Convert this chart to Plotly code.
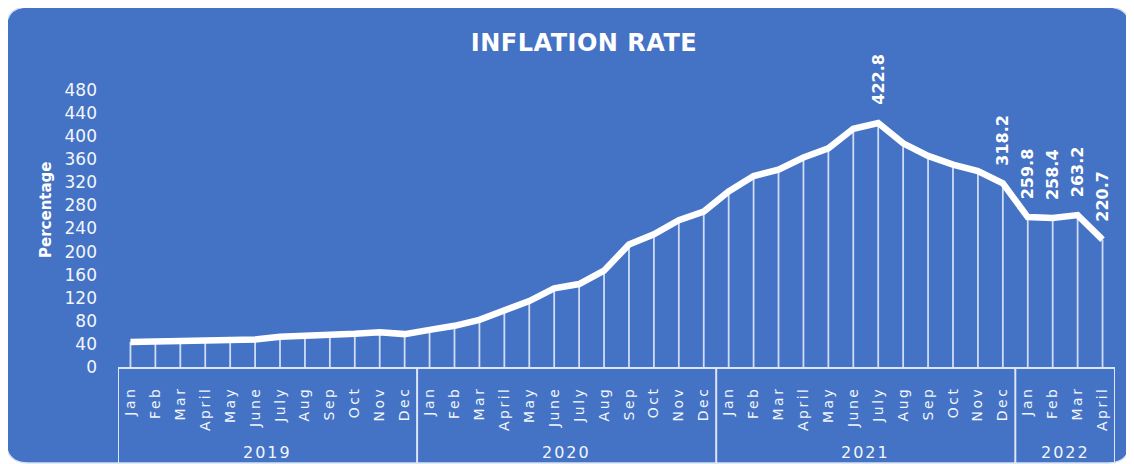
import plotly.graph_objects as go

years = ["2019", "2020", "2021", "2022"]
year_counts = [12, 12, 12, 4]
months = (["Jan", "Feb", "Mar", "April", "May", "June", "July", "Aug", "Sep", "Oct", "Nov", "Dec"] * 3
          + ["Jan", "Feb", "Mar", "April"])
inflation = [43.5, 44.3, 44.6, 44.4, 45.0, 47.8, 52.6, 53.8, 54.6, 57.7, 60.4, 57.0,
             64.3, 71.4, 81.6, 98.8, 114.3, 136.4, 143.8, 166.8, 212.3, 229.9, 254.3, 269.3,
             304.3, 330.8, 341.8, 363.1, 378.8, 412.8, 422.8, 387.6, 365.8, 350.8, 339.6, 318.2,
             259.8, 258.4, 263.2, 220.7]
labelled = [30, 35, 36, 37, 38, 39]
y_ticks = list(range(0, 481, 40))

OFF = 8  # page body margin
W, H = 1134 - OFF, 464 - OFF
# plot area in page pixels: x 118..1115, y 90..367
ML = 118 - OFF
MR = W - (1115 - OFF)
MT = 90 - OFF
MB = H - (367 - OFF)
PW, PH = W - ML - MR, H - MT - MB
BLUE = "#4472C4"
LINEC = "#dbe6f6"
FONT = "DejaVu Sans"


def px(x):  # page pixel -> paper x
    return (x - OFF - ML) / PW


def py(y):  # page pixel -> paper y
    return (H - MB - (y - OFF)) / PH


def spaced(t, s):
    return f'<span style="letter-spacing:{s}px">{t}</span>'


x0, x1, y0, y1, r = 6, 1130, 7, 463, 22
pts = [
    ("M", x0 + r, y0), ("L", x1 - r, y0), ("Q", x1, y0, x1, y0 + r), ("L", x1, y1 - r),
    ("Q", x1, y1, x1 - r, y1), ("L", x0 + r, y1), ("Q", x0, y1, x0, y1 - r),
    ("L", x0, y0 + r), ("Q", x0, y0, x0 + r, y0),
]
path = ""
for p in pts:
    coords = p[1:]
    s = [f"{px(coords[i]):.5f},{py(coords[i+1]):.5f}" for i in range(0, len(coords), 2)]
    path += p[0] + " " + " ".join(s) + " "
path += "Z"

xi = list(range(len(inflation)))

fig = go.Figure()
fig.add_shape(type="path", path=path, xref="paper", yref="paper", layer="below",
              fillcolor=BLUE, line=dict(color="#d6e2f5", width=1.5))

# drop lines
fig.add_trace(go.Scatter(
    x=xi, y=inflation, mode="markers", marker=dict(size=0.1, color="rgba(0,0,0,0)"),
    error_y=dict(type="data", symmetric=False, array=[0] * len(inflation),
                 arrayminus=inflation, width=0, thickness=1.8, color="#cfdcf3"),
    hoverinfo="skip", showlegend=False,
))
fig.add_trace(go.Scatter(
    x=xi, y=inflation, mode="lines",
    line=dict(color="white", width=6.5),
    showlegend=False,
))

for i in labelled:
    fig.add_annotation(
        x=i, y=inflation[i], xref="x", yref="y",
        text=f"{inflation[i]:.1f}", showarrow=False, textangle=-90,
        xanchor="center", yanchor="bottom", yshift=16,
        font=dict(family=FONT, size=16, color="white", weight="bold"),
    )

# year groups: dividers and labels
start = 0
bounds = [-0.5]
for yr, n in zip(years, year_counts):
    fig.add_annotation(
        x=start + (n - 1) / 2, y=py(452), xref="x", yref="paper",
        text=spaced(yr, 2), showarrow=False, xanchor="center", yanchor="middle",
        font=dict(family=FONT, size=16, color="#f2f6fc"),
    )
    start += n
    bounds.append(start - 0.5)
for b in bounds:
    fig.add_shape(type="line", x0=b, x1=b, y0=0, y1=py(470), xref="x", yref="paper",
                  line=dict(color=LINEC, width=2))

fig.add_annotation(
    x=px(35), y=py(210), xref="paper", yref="paper", text="Percentage",
    textangle=-90, showarrow=False,
    font=dict(family=FONT, size=15, color="white", weight="bold"),
)

fig.update_layout(
    width=W, height=H,
    margin=dict(l=ML, r=MR, t=MT, b=MB, autoexpand=False),
    paper_bgcolor="white", plot_bgcolor="rgba(0,0,0,0)",
    title=dict(text=spaced("INFLATION RATE", 0.5), x=px(584), xref="paper", xanchor="center",
               y=1 - (43 - OFF) / H, yanchor="middle",
               font=dict(family=FONT, size=24, color="white", weight="bold")),
    xaxis=dict(range=[-0.5, len(inflation) - 0.5], tickmode="array", tickvals=xi,
               ticktext=[spaced(m, 2.5) for m in months], tickangle=-90,
               showgrid=False, zeroline=False,
               showline=True, linecolor=LINEC, linewidth=2, automargin=False,
               tickfont=dict(family=FONT, size=14, color="#f2f6fc"),
               ticks="", ticklabelstandoff=12),
    yaxis=dict(range=[0, 480], tickvals=y_ticks, showgrid=False, zeroline=False,
               showline=False, ticks="", ticklabelstandoff=20, automargin=False,
               tickfont=dict(family=FONT, size=17, color="#f2f6fc")),
)

fig.write_html("out.html")
